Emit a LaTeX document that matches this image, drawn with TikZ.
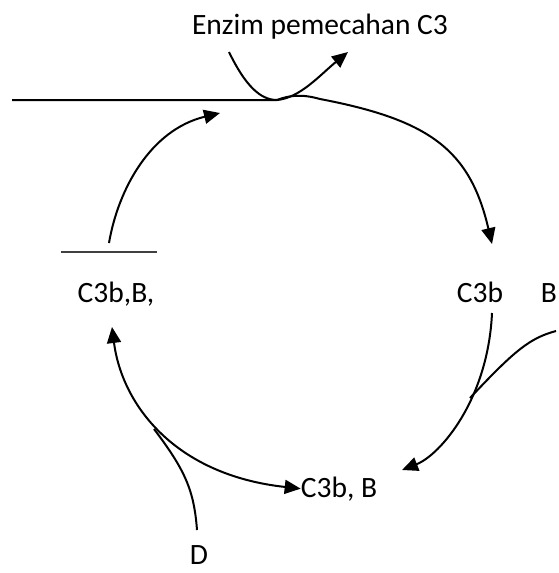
\documentclass[tikz,border=0pt]{standalone}
\usepackage{fontspec}
\setmainfont{Carlito}
\usetikzlibrary{arrows.meta}

\begin{document}
\begin{tikzpicture}[x=1pt,y=-1pt,
  lbl/.style={inner sep=0pt,anchor=base,font=\fontsize{29.5}{33}\selectfont},
  curve/.style={line width=2pt,black},
  arrow/.style={curve,-{Triangle[length=16pt,width=14pt]}},
  bar/.style={line width=2pt,black!75}]
\useasboundingbox (0,0) rectangle (559,573);
% labels
\node[lbl](enz) at (320,34){Enzim pemecahan C3};
\node[lbl](cbb) at (116,302){C3b,B,};
\node[lbl](cb) at (480,302){C3b};
\node[lbl](bb) at (549,302){B};
\node[lbl](cbm) at (339,497){C3b, B};
\node[lbl](dd) at (199,564){D};
% free ends
\coordinate (lft) at (12,100);
\coordinate (tch) at (277,100);
\coordinate (bump) at (320,99);
\coordinate (cbin) at (492,244);
\coordinate (enzin) at (229,52);
\coordinate (enzout) at (348,52);
\coordinate (cbout) at (492,313);
\coordinate (bout) at (556,331);
\coordinate (bend) at (470,398);
\coordinate (cbmin) at (402,470);
\coordinate (up) at (109,243);
\coordinate (upin) at (220,113);
\coordinate (cbbin) at (112,327);
\coordinate (dout) at (197,530);
\coordinate (dend) at (154,429);
\coordinate (barl) at (61,252);
\coordinate (barr) at (157,252);
% cycle
\draw[arrow](lft)--(tch)..controls(290,95)and(302,94)..(bump)
  ..controls(430,120)and(470,150)..(cbin);
\draw[arrow](enzin)..controls(245,85)and(260,100)..(tch)
  ..controls(300,98)and(320,75)..(enzout);
\draw[arrow](cbout)..controls(488,400)and(440,455)..(cbmin);
\draw[curve](bout)..controls(530,338)and(515,350)..(bend);
\draw[arrow,{Triangle[length=16pt,width=14pt]}-{Triangle[length=16pt,width=14pt]}]
  (cbbin)..controls(122,405)and(175,475)..(cbm.west);
\draw[curve](dout)..controls(194,490)and(185,470)..(dend);
\draw[arrow](up)..controls(118,190)and(150,130)..(upin);
\draw[bar](barl)--(barr);
\end{tikzpicture}
\end{document}
